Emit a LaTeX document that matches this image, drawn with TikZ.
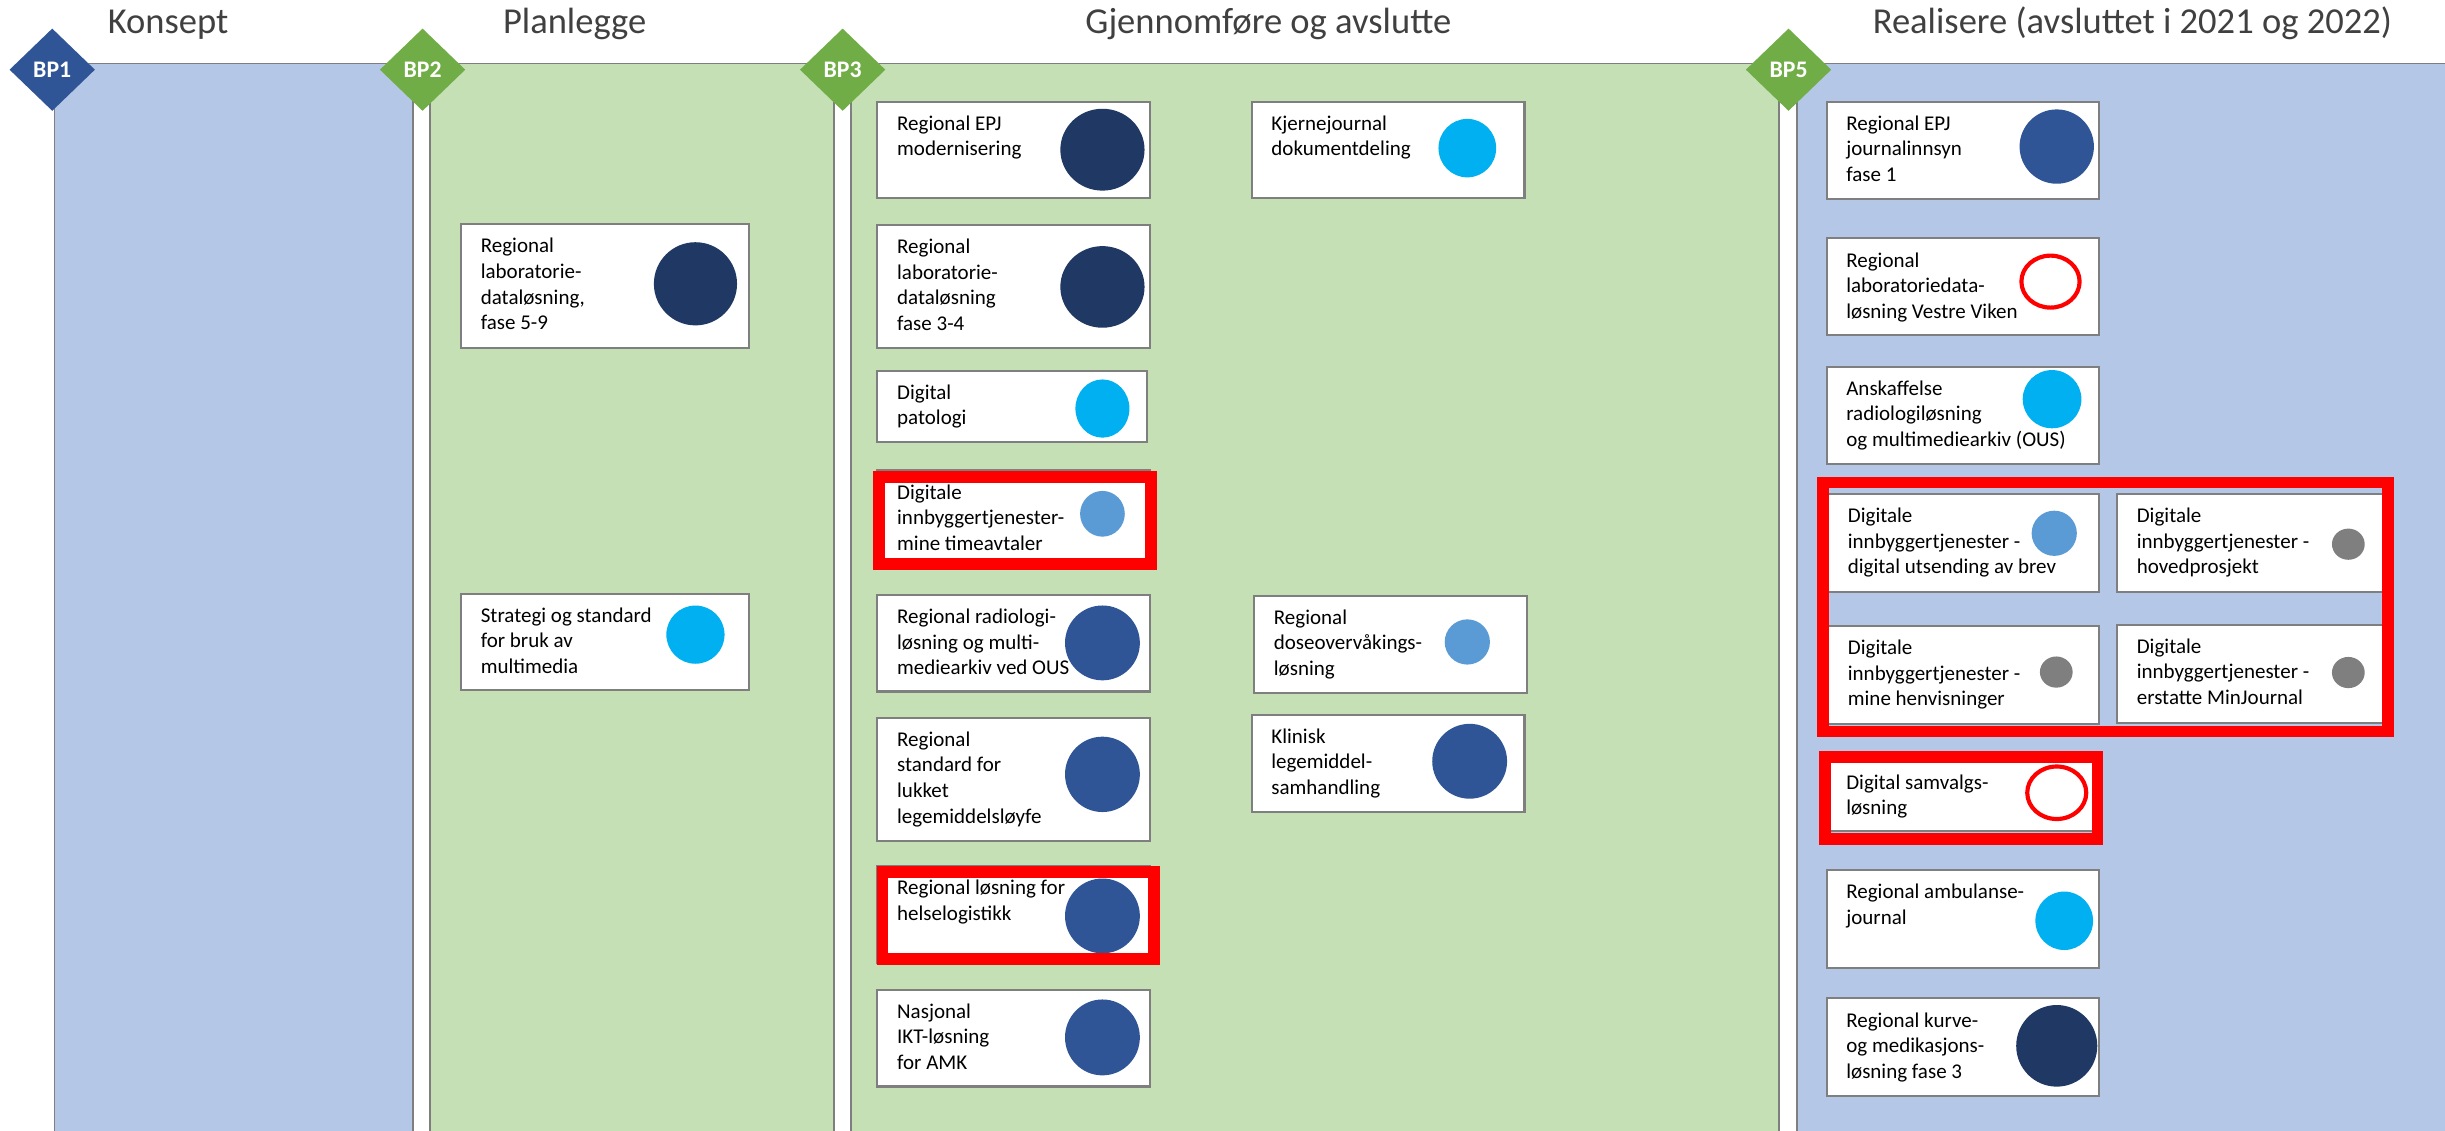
\documentclass[tikz,border=0pt]{standalone}
\usepackage{fontspec}
\setmainfont{Carlito}
\usepackage{tikz}
\usetikzlibrary{shapes.geometric,positioning}

\definecolor{lightblue}{HTML}{B4C7E7}
\definecolor{lightgreen}{HTML}{C5E0B4}
\definecolor{framegray}{HTML}{7F7F7F}
\definecolor{titlegray}{HTML}{404040}
\definecolor{bpgreen}{HTML}{70AD47}
\definecolor{bpblue}{HTML}{2F5597}
\definecolor{navy}{HTML}{203864}
\definecolor{midblue}{HTML}{2F5597}
\definecolor{skyblue}{HTML}{00B0F0}
\definecolor{paleblue}{HTML}{5B9BD5}
\definecolor{dotgray}{HTML}{7F7F7F}

\begin{document}
\begin{tikzpicture}[x=0.3mm, y=-0.3mm, semithick]
  \tikzstyle{every node}=[font=\fontsize{11.5}{14}\selectfont]
  \tikzstyle{panel}=[draw=framegray, line width=0.3mm]
  \tikzstyle{phase}=[anchor=base, text=titlegray, font=\fontsize{20}{24}\selectfont]
  \tikzstyle{milestone}=[diamond, aspect=1, inner sep=0pt, minimum width=16.5mm, minimum height=15.9mm, text=white, font=\bfseries\fontsize{13}{13}\selectfont]
  \tikzstyle{prj}=[draw=framegray, fill=white, line width=0.4mm, anchor=north west, inner sep=0pt, minimum width=52.5mm]
  \tikzstyle{txt}=[anchor=north west, inner sep=0pt, align=left]
  \tikzstyle{dot}=[ellipse, inner sep=0pt, draw=none]
  \tikzstyle{ring}=[ellipse, inner sep=0pt, draw=red, fill=white, line width=0.8mm]
  \tikzstyle{highlight}=[draw=red, line width=2.25mm]

  \useasboundingbox (0,0) rectangle (1568,725);

  % faser
  \draw[panel, fill=lightblue]  (35,40.6)    rectangle (265,760);
  \draw[panel, fill=lightgreen] (275.8,40.6) rectangle (535,760);
  \draw[panel, fill=lightgreen] (545.8,40.6) rectangle (1141,760);
  \draw[panel, fill=lightblue]  (1152.4,40.6) rectangle (1600,760);

  \node[phase] (T1) at (107.8,21.5) {Konsept};
  \node[phase] (T2) at (368.5,21.5) {Planlegge};
  \node[phase] (T3) at (813.4,21.5) {Gjennomføre og avslutte};
  \node[phase] (T4) at (1367.5,21.5) {Realisere (avsluttet i 2021 og 2022)};

  \node[milestone, fill=bpblue]  (BP1) at (33.5,44.7)  {BP1};
  \node[milestone, fill=bpgreen] (BP2) at (271,44.7)   {BP2};
  \node[milestone, fill=bpgreen] (BP3) at (540.4,44.7) {BP3};
  \node[milestone, fill=bpgreen] (BP5) at (1147,44.7)  {BP5};

  % Planlegge
  \node[prj, minimum width=55.35mm, minimum height=23.73mm] (P1) at (295,143.2) {};
  \node[txt, below right=2.8mm and 3.9mm of P1.north west] (P1t) {Regional\\laboratorie-\\dataløsning,\\fase 5-9};
  \node[dot, fill=navy, minimum width=16mm, minimum height=16mm] (P1d) at (446,182) {};

  \node[prj, minimum width=55.35mm, minimum height=18.6mm] (P2) at (295,380) {};
  \node[txt, below right=2.8mm and 3.9mm of P2.north west] (P2t) {Strategi og standard\\for bruk av\\multimedia};
  \node[dot, fill=skyblue, minimum width=11.2mm, minimum height=11.2mm] (P2d) at (446,407) {};

  % Gjennomføre og avslutte
  \node[prj, minimum height=18.57mm] (G1) at (562,64.6) {};
  \node[txt, below right=2.8mm and 3.9mm of G1.north west] (G1t) {Regional EPJ\\modernisering};
  \node[dot, fill=navy, minimum width=16.2mm, minimum height=15.75mm] (G1d) at (707,96) {};

  \node[prj, minimum height=23.58mm] (G2) at (562,143.7) {};
  \node[txt, below right=2.8mm and 3.9mm of G2.north west] (G2t) {Regional\\laboratorie-\\dataløsning\\fase 3-4};
  \node[dot, fill=navy, minimum width=16.2mm, minimum height=15.7mm] (G2d) at (707,184) {};

  \node[prj, minimum width=51.9mm, minimum height=13.68mm] (G3) at (562,237) {};
  \node[txt, below right=2.8mm and 3.9mm of G3.north west] (G3t) {Digital\\patologi};
  \node[dot, fill=skyblue, minimum width=10.4mm, minimum height=11.2mm] (G3d) at (707,262) {};

  \node[prj, minimum height=18.6mm] (G4) at (562,301) {};
  \node[txt, below right=2.8mm and 3.9mm of G4.north west] (G4t) {Digitale\\innbyggertjenester-\\mine timeavtaler};
  \node[dot, fill=paleblue, minimum width=8.6mm, minimum height=8.8mm] (G4d) at (707,329.5) {};

  \node[prj, minimum height=18.57mm] (G5) at (562,380.9) {};
  \node[txt, below right=2.8mm and 3.9mm of G5.north west] (G5t) {Regional radiologi-\\løsning og multi-\\mediearkiv ved OUS};
  \node[dot, fill=midblue, minimum width=14.4mm, minimum height=14.4mm] (G5d) at (707,412.3) {};

  \node[prj, minimum height=23.67mm] (G6) at (562,459.6) {};
  \node[txt, below right=2.8mm and 3.9mm of G6.north west] (G6t) {Regional\\standard for\\lukket\\legemiddelsløyfe};
  \node[dot, fill=midblue, minimum width=14.4mm, minimum height=14.5mm] (G6d) at (707,496.6) {};

  \node[prj, minimum height=18.6mm] (G7) at (562,554.9) {};
  \node[txt, below right=2.8mm and 3.9mm of G7.north west] (G7t) {Regional løsning for\\helselogistikk};
  \node[dot, fill=midblue, minimum width=14.4mm, minimum height=14.4mm] (G7d) at (707,587.4) {};

  \node[prj, minimum height=18.63mm] (G8) at (562,634) {};
  \node[txt, below right=2.8mm and 3.9mm of G8.north west] (G8t) {Nasjonal\\IKT-løsning\\for AMK};
  \node[dot, fill=midblue, minimum width=14.4mm, minimum height=14.6mm] (G8d) at (707,665.3) {};

  \node[prj, minimum height=18.57mm] (K1) at (802,64.6) {};
  \node[txt, below right=2.8mm and 3.9mm of K1.north west] (K1t) {Kjernejournal\\dokumentdeling};
  \node[dot, fill=skyblue, minimum width=11.1mm, minimum height=11.25mm] (K1d) at (941,95) {};

  \node[prj, minimum height=18.72mm] (K2) at (803.6,381.3) {};
  \node[txt, below right=2.8mm and 3.9mm of K2.north west] (K2t) {Regional\\doseovervåkings-\\løsning};
  \node[dot, fill=paleblue, minimum width=8.7mm, minimum height=8.7mm] (K2d) at (941,411.7) {};

  \node[prj, minimum height=18.78mm] (K3) at (802,457.7) {};
  \node[txt, below right=2.8mm and 3.9mm of K3.north west] (K3t) {Klinisk\\legemiddel-\\samhandling};
  \node[dot, fill=midblue, minimum width=14.4mm, minimum height=14.4mm] (K3d) at (942.5,488.2) {};

  % Realisere
  \node[prj, minimum height=18.66mm] (R1) at (1170.7,64.6) {};
  \node[txt, below right=2.8mm and 3.9mm of R1.north west] (R1t) {Regional EPJ\\journalinnsyn\\fase 1};
  \node[dot, fill=midblue, minimum width=14.3mm, minimum height=14.3mm] (R1d) at (1319,94) {};

  \node[prj, minimum height=18.6mm] (R2) at (1170.7,152.2) {};
  \node[txt, below right=2.8mm and 3.9mm of R2.north west] (R2t) {Regional\\laboratoriedata-\\løsning Vestre Viken};
  \node[ring, minimum width=11.2mm, minimum height=10mm] (R2d) at (1315,180.6) {};

  \node[prj, minimum height=18.66mm] (R3) at (1170.7,234.5) {};
  \node[txt, below right=2.8mm and 3.9mm of R3.north west] (R3t) {Anskaffelse\\radiologiløsning\\og multimediearkiv (OUS)};
  \node[dot, fill=skyblue, minimum width=11.3mm, minimum height=11.2mm] (R3d) at (1316,256) {};

  \node[prj, minimum height=18.84mm] (D1) at (1170.7,316) {};
  \node[txt, below right=2.8mm and 4.2mm of D1.north west] (D1t) {Digitale\\innbyggertjenester -\\digital utsending av brev};
  \node[dot, fill=paleblue, minimum width=8.7mm, minimum height=8.7mm] (D1d) at (1317.4,342) {};

  \node[prj, minimum height=18.9mm] (D2) at (1357,316) {};
  \node[txt, below right=2.8mm and 3.9mm of D2.north west] (D2t) {Digitale\\innbyggertjenester -\\hovedprosjekt};
  \node[dot, fill=dotgray, minimum width=6.3mm, minimum height=6mm] (D2d) at (1506,349) {};

  \node[prj, minimum height=18.81mm] (D3) at (1170.7,400.8) {};
  \node[txt, below right=2.8mm and 4.2mm of D3.north west] (D3t) {Digitale\\innbyggertjenester -\\mine henvisninger};
  \node[dot, fill=dotgray, minimum width=6.3mm, minimum height=6mm] (D3d) at (1318.7,431) {};

  \node[prj, minimum height=18.9mm] (D4) at (1357,400) {};
  \node[txt, below right=2.8mm and 3.9mm of D4.north west] (D4t) {Digitale\\innbyggertjenester -\\erstatte MinJournal};
  \node[dot, fill=dotgray, minimum width=6.3mm, minimum height=6mm] (D4d) at (1506,431.3) {};

  \node[prj, minimum height=13.5mm] (S1) at (1172,487) {};
  \node[txt, below right=2.8mm and 3.5mm of S1.north west] (S1t) {Digital samvalgs-\\løsning};
  \node[ring, minimum width=11.35mm, minimum height=10.1mm] (S1d) at (1319,508.4) {};

  \node[prj, minimum height=18.78mm] (R5) at (1170.7,557.3) {};
  \node[txt, below right=2.8mm and 3.9mm of R5.north west] (R5t) {Regional ambulanse-\\journal};
  \node[dot, fill=skyblue, minimum width=11.1mm, minimum height=11.25mm] (R5d) at (1323.8,590.5) {};

  \node[prj, minimum height=18.78mm] (R6) at (1170.7,639.6) {};
  \node[txt, below right=2.8mm and 3.9mm of R6.north west] (R6t) {Regional kurve-\\og medikasjons-\\løsning fase 3};
  \node[dot, fill=navy, minimum width=15.6mm, minimum height=15.7mm] (R6d) at (1319,670.7) {};

  % røde markeringer
  \draw[highlight] (563.75,305.75) rectangle (738.25,361.75);
  \draw[highlight] (566,559.4) rectangle (740,614.9);
  \draw[highlight] (1168.95,309.45) rectangle (1531.65,469.15);
  \draw[highlight] (1170.55,485.35) rectangle (1345.05,538.15);
\end{tikzpicture}
\end{document}
